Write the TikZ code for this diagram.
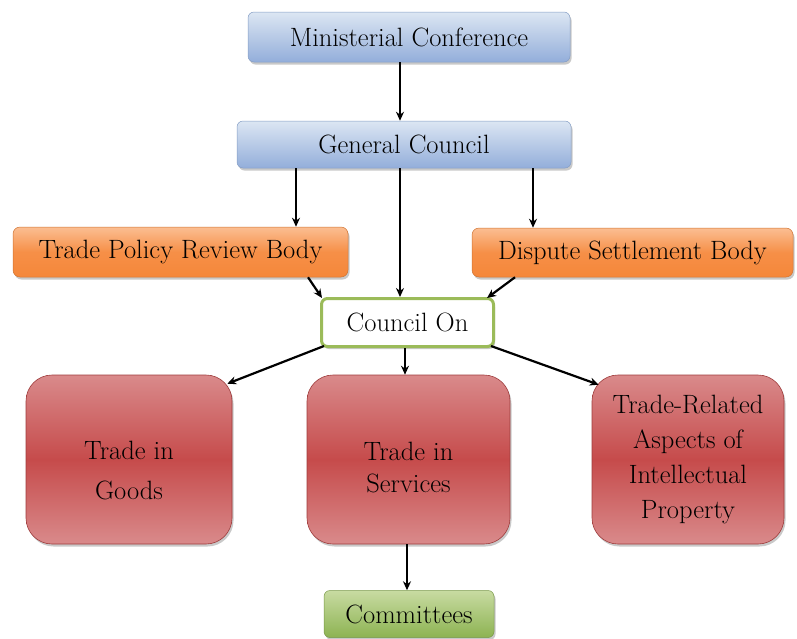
\documentclass[tikz,border=0pt]{standalone}
\usepackage{fontspec}
\usetikzlibrary{arrows.meta,shadows,calc}
\definecolor{blueTop}{HTML}{DCE6F3}
\definecolor{blueBot}{HTML}{93AEDA}
\definecolor{orTop}{HTML}{FBBE92}
\definecolor{orBot}{HTML}{F5873A}
\definecolor{redEdge}{HTML}{D98A8B}
\definecolor{redMid}{HTML}{C64B4B}
\definecolor{grTop}{HTML}{C8DBA2}
\definecolor{grBot}{HTML}{8DB352}
\definecolor{grLine}{HTML}{9BBB59}
\tikzset{
  base/.style={font=\rmfamily\fontsize{26.5}{35}\selectfont, align=center, inner sep=0pt,
    drop shadow={shadow xshift=1.5pt, shadow yshift=-2.5pt, opacity=0.3, fill=black!70}},
  bluebox/.style={base, rounded corners=6pt, top color=blueTop, bottom color=blueBot, draw=blueBot!90!black, line width=0.5pt},
  orbox/.style={base, rounded corners=7pt, top color=orTop, bottom color=orBot, middle color=orBot!85!orTop, draw=orBot!85!black, line width=0.5pt},
  redbox/.style={base, rounded corners=26pt, top color=redEdge, bottom color=redEdge, middle color=redMid, draw=redMid!80!black, line width=0.6pt},
  grbox/.style={base, rounded corners=6pt, top color=grTop, bottom color=grBot, draw=grBot!85!black, line width=0.5pt},
  councilbox/.style={base, rounded corners=6pt, fill=white, draw=grLine, line width=3pt},
  lbl/.style={font=\rmfamily\fontsize{26.5}{35}\selectfont, align=center, inner sep=0pt},
  conn/.style={line width=2.2pt, -{Stealth[length=9pt,width=8pt]}},
}
\begin{document}
\begin{tikzpicture}[x=1pt,y=-1pt]
\useasboundingbox (0,0) rectangle (797,638);
\node[bluebox, minimum width=322pt, minimum height=50pt] (mc) at (409,37) {Ministerial Conference};
\node[bluebox, minimum width=334pt, minimum height=47pt] (gc) at (404,144.5) {General Council};
\node[orbox, minimum width=335pt, minimum height=50pt] (tprb) at (180.5,252) {Trade Policy Review Body};
\node[orbox, minimum width=321pt, minimum height=49pt] (dsb) at (632.5,252.5) {Dispute Settlement Body};
\node[councilbox, minimum width=172pt, minimum height=48pt] (co) at (407.5,322.5) {Council On};
\node[redbox, minimum width=206pt, minimum height=169pt] (goods) at (129,459.5) {};
\node[lbl, font=\rmfamily\fontsize{26.5}{40}\selectfont] (goodsT) at (129,471) {Trade in\\Goods};
\node[redbox, minimum width=203pt, minimum height=169pt] (serv) at (408.5,459.5) {};
\node[lbl, font=\rmfamily\fontsize{26.5}{32}\selectfont] (servT) at (408.5,468) {Trade in\\Services};
\node[redbox, minimum width=192pt, minimum height=169pt, font=\rmfamily\fontsize{26.5}{35}\selectfont] (trips) at (688,459.5) {Trade-Related\\Aspects of\\Intellectual\\Property};
\node[grbox, minimum width=170pt, minimum height=47pt] (com) at (409,614) {Committees};
% connectors
\draw[conn] (mc.south -| 400,0) -- (gc.north -| 400,0);
\draw[conn] (gc.south -| 296,0) -- (tprb.north -| 296,0);
\draw[conn] (gc.south -| 400,0) -- (co.north -| 400,0);
\draw[conn] (gc.south -| 533,0) -- (dsb.north -| 533,0);
\draw[conn] (tprb.south -| 308,0) -- ($(co.north west)+(2,1)$);
\draw[conn] (dsb.south -| 515,0) -- ($(co.north east)+(-8,1)$);
\draw[conn] ($(co.south west)+(4,-2)$) -- ($(goods.north east)+(-5,9)$);
\draw[conn] (co.south -| 405,0) -- (serv.north -| 405,0);
\draw[conn] ($(co.south east)+(-4,-2)$) -- ($(trips.north west)+(7,10)$);
\draw[conn] (serv.south -| 407,0) -- (com.north -| 407,0);
\end{tikzpicture}
\end{document}
